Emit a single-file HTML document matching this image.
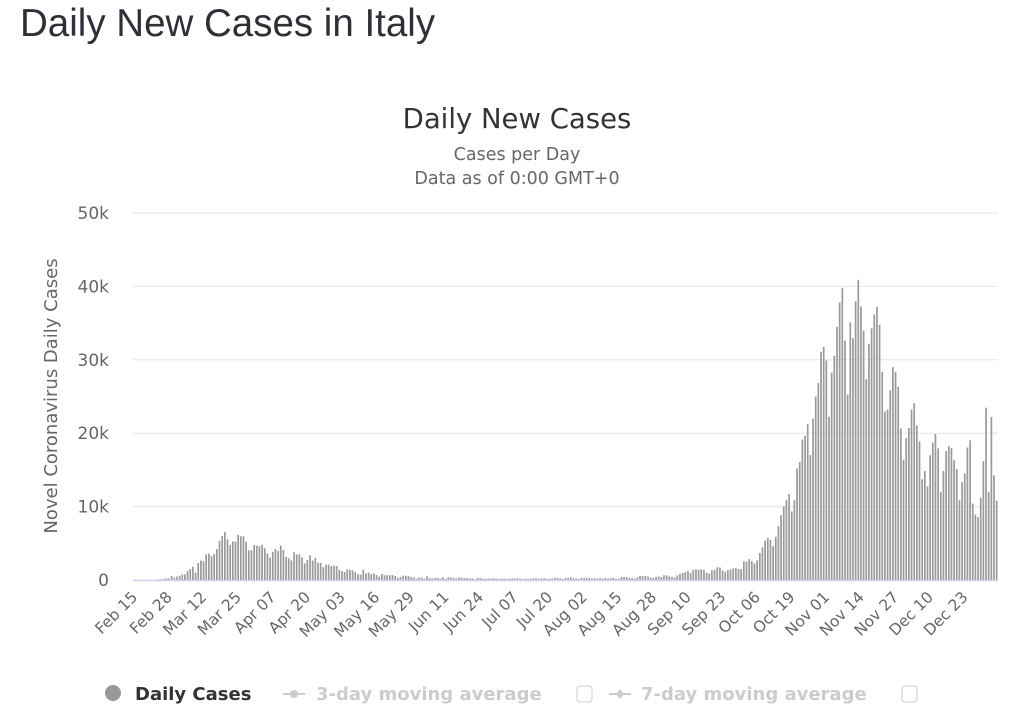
<!DOCTYPE html>
<html><head><meta charset="utf-8"><style>
body{margin:0;background:#fff;width:1023px;height:719px;overflow:hidden;font-family:"Liberation Sans",sans-serif}
</style></head><body>
<svg id="s" width="1023" height="719" xmlns="http://www.w3.org/2000/svg" font-family="DejaVu Sans, sans-serif">
<text x="20" y="36" font-size="38.5" fill="#2f2f38" font-family="Liberation Sans, sans-serif">Daily New Cases in Italy</text>
<text x="517" y="128" font-size="27.5" fill="#333" text-anchor="middle">Daily New Cases</text>
<text x="517" y="160" font-size="17.5" fill="#666" text-anchor="middle">Cases per Day</text>
<text x="517" y="184" font-size="17.5" fill="#666" text-anchor="middle">Data as of 0:00 GMT+0</text>
<text transform="translate(57,396) rotate(-90)" font-size="18" fill="#666" text-anchor="middle">Novel Coronavirus Daily Cases</text>
<g id="grid"></g>
<g id="bars" fill="#9a9a9a"></g>
<line x1="133" y1="580.5" x2="998" y2="580.5" stroke="#ccd6eb" stroke-width="1.5"/>
<g id="xl" font-size="15.5" fill="#666"></g>
<circle cx="113" cy="693" r="8" fill="#999"/>
<text x="135" y="700" font-size="18" font-weight="bold" fill="#333">Daily Cases</text>
<line x1="283" y1="694" x2="305" y2="694" stroke="#ccc" stroke-width="2"/><circle cx="294" cy="694" r="4" fill="#ccc"/>
<text x="316" y="700" font-size="18" font-weight="bold" fill="#ccc">3-day moving average</text>
<rect x="577" y="686" width="15" height="16" rx="3" fill="none" stroke="#ccc"/>
<line x1="609" y1="694" x2="631" y2="694" stroke="#ccc" stroke-width="2"/><path d="M620 689 L624 694 L620 699 L616 694Z" fill="#ccc"/>
<text x="641" y="700" font-size="18" font-weight="bold" fill="#ccc">7-day moving average</text>
<rect x="902" y="686" width="15" height="16" rx="3" fill="none" stroke="#ccc"/>
</svg>
<script>
var NS="http://www.w3.org/2000/svg";
function el(p,t,a,txt){var e=document.createElementNS(NS,t);for(var k in a)e.setAttribute(k,a[k]);if(txt!=null)e.textContent=txt;document.getElementById(p).appendChild(e);}
var y0=580,k=(580-213)/50000;
for(var i=1;i<=5;i++){var y=y0-i*10000*k;el("grid","line",{x1:133,x2:998,y1:y,y2:y,stroke:"#e6e6e6"});}
for(var i=0;i<=5;i++){el("grid","text",{x:109,y:y0-i*10000*k+6,"text-anchor":"end","font-size":"17",fill:"#666"},i?i*10+"k":"0");}
var v=[0,0,0,0,0,0,20,60,50,100,90,120,230,200,570,340,466,587,769,778,1247,1492,1797,977,2313,2651,2547,3497,3590,3233,3526,4207,5322,5986,6557,5560,4789,5249,5210,6153,5959,5974,5217,4050,4053,4782,4668,4585,4805,4316,3599,3039,3836,4204,3951,4694,4092,3153,2972,2667,3786,3493,3491,3047,2256,2729,3370,2646,3021,2357,2324,1739,2091,2086,1872,1965,1900,1389,1221,1075,1444,1401,1327,1083,802,744,1402,888,992,789,875,675,451,813,665,642,652,669,531,300,397,584,593,516,416,355];
var mid=[178,318,321,177,518,270,197,280,283,202,379,163,346,338,301,210,329,333,251,264,224,221,113,282,255,175,174,190,187,259,201,142,182,192,138,193,223,208,235,192,114,163,169,188,234,230,168,211,234,155,169,190,306,254,218,130,251,289,379,252,188,128,280,306,249,275,212,238,181,274,188,254,230,239,295,159,203,412,402,384,295,239,190,384,552,523,547,463,347,259,412,481,401,642,629,479,403,320,642,845,947,1071,1210,953,1411,1462,1367,1444,1365,996,878,1326,1397,1733,1695,1297,1108,1370,1434,1597,1616,1501,1458,1008,1229,1452,1585,1907,1638,1587,1350,1392,1640,1786,1912,1869,1766,1494];
v=v.concat(mid);
var late=[2548,2499,2844,2578,2257,2677,3678,4458,5372,5724,5456,4619,5901,7332,8804,10010,10925,11705,9338,10874,15199,16079,19143,19644,21273,17012,21994,24991,26831,31084,31758,29907,22253,28244,30550,34505,37809,39811,32616,25271,35098,32961,37978,40902,37255,33979,27352,32191,34283,36176,37242,34767,28337,22930,23232,25853,29003,28352,26323,20648,16377,19350,20709,23225,24099,21052,18887,13720,14842,12756,16999,18727,19903,17938,12030,14844,17572,18236,17992,16308,15104,10872,13318,14522,18040,19037,10407,8913,8585,11212,16202,23477,12000,22211,14245,10800];
var need=325-late.length;while(v.length<need)v.push(1500);v=v.slice(0,need).concat(late);
var s=865/v.length;
for(var d=0;d<v.length;d++){var h=v[d]*k;if(h<0.5)continue;el("bars","rect",{x:(133+s*d+0.5).toFixed(2),y:(y0-h).toFixed(2),width:1.7,height:h.toFixed(2)});}
var names=["Feb 15","Feb 28","Mar 12","Mar 25","Apr 07","Apr 20","May 03","May 16","May 29","Jun 11","Jun 24","Jul 07","Jul 20","Aug 02","Aug 15","Aug 28","Sep 10","Sep 23","Oct 06","Oct 19","Nov 01","Nov 14","Nov 27","Dec 10","Dec 23"];
for(var i=0;i<names.length;i++){var x=133+s*(i*13+0.5)+4,y=598;el("xl","text",{x:x,y:y,"text-anchor":"end",transform:"rotate(-45 "+x+" "+y+")"},names[i]);}
</script>
</body></html>
